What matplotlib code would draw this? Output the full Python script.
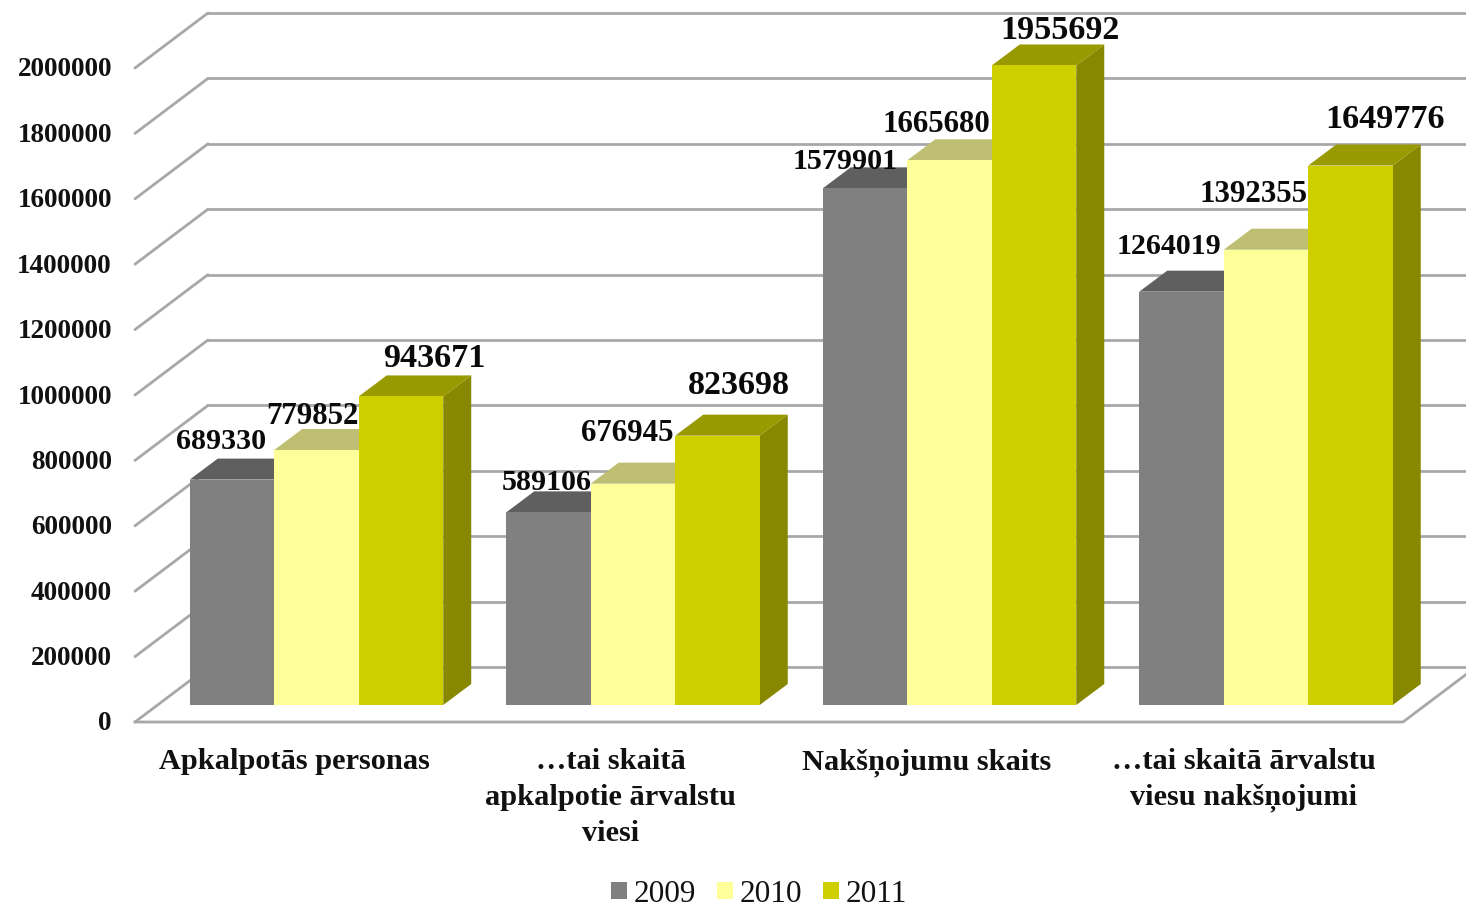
import matplotlib
matplotlib.use("Agg")
import matplotlib.pyplot as plt
from matplotlib.patches import Patch, Polygon

plt.rcParams["font.family"] = ["Liberation Serif", "DejaVu Serif"]

# data
categories = ["Apkalpotās personas",
              "…tai skaitā\napkalpotie ārvalstu\nviesi",
              "Nakšņojumu skaits",
              "…tai skaitā ārvalstu\nviesu nakšņojumi"]
years = ["2009", "2010", "2011"]
v2009 = [689330, 589106, 1579901, 1264019]
v2010 = [779852, 676945, 1665680, 1392355]
v2011 = [943671, 823698, 1955692, 1649776]
y_ticks = [0, 200000, 400000, 600000, 800000, 1000000, 1200000, 1400000,
           1600000, 1800000, 2000000]

# label offsets from the top centre of each bar, in pixels
off2009 = [(-11, 38), (-1.5, 30), (-20, 27), (-12.5, 45)]
off2010 = [(-4.5, 33), (-6, 50), (-13.5, 36), (-12, 55)]
off2011 = [(33, 38), (21.5, 50), (26, 35), (34.5, 46)]

W, H = 1466, 907
PX_X = 316.5            # pixels per category
PX_Y = 0.000327         # pixels per unit of value
BASE_PX = 705           # pixel row of value 0 at the bar front


def dx(px):
    return px / PX_X


def dy(px):
    return px / PX_Y


fig = plt.figure(figsize=(W / 100, H / 100), dpi=100, facecolor="white")
ax = fig.add_axes([0, 0, 1, 1])
ax.set_xlim(-1, W / PX_X - 1)
ax.set_ylim((BASE_PX - H) / PX_Y, BASE_PX / PX_Y)
ax.axis("off")

# walls and floor
grid = "#a8a8a8"
x_front = dx(135) - 1
x_back = dx(208) - 1
x_end = dx(1403) - 1
floor_shift = -dy(17)   # wall front sits a little below the bar front
back_shift = dy(55)
for t in y_ticks:
    y = t + floor_shift
    ax.plot([x_front, x_back], [y, y + back_shift], color=grid, lw=2, solid_capstyle="round", zorder=1)
    ax.plot([x_back, ax.get_xlim()[1]], [y + back_shift] * 2, color=grid, lw=2, zorder=1)
    ax.text(dx(112) - 1, y - dy(2), f"{t}", ha="right", va="center", fontsize=19.6, fontweight="bold", color="#111111")
ax.plot([x_front, x_end, x_end + dx(73)], [floor_shift, floor_shift, floor_shift + back_shift],
        color=grid, lw=2, zorder=1)

# bars
bar_w = dx(84.5)
depth_x = dx(28)
depth_y = dy(21)
series = [
    (v2009, off2009, "#808080", "#5f5f5f", "#5a5a5a", 21.6),
    (v2010, off2010, "#ffff99", "#bfbf73", "#bfbf73", 22.2),
    (v2011, off2011, "#cfcf00", "#999900", "#888800", 24.6),
]
for s, (vals, offs, front, top, side, size) in enumerate(series):
    for i, v in enumerate(vals):
        x0 = i + (s - 1.5) * bar_w
        x1 = x0 + bar_w
        z = 2 + s
        ax.add_patch(Polygon([(x1, 0), (x1 + depth_x, depth_y), (x1 + depth_x, v + depth_y), (x1, v)],
                             fc=side, ec="none", zorder=z))
        ax.add_patch(Polygon([(x0, v), (x0 + depth_x, v + depth_y), (x1 + depth_x, v + depth_y), (x1, v)],
                             fc=top, ec="none", zorder=z))
        ax.add_patch(Polygon([(x0, 0), (x1, 0), (x1, v), (x0, v)], fc=front, ec="none", zorder=z))

for s, (vals, offs, front, top, side, size) in enumerate(series):
    for i, v in enumerate(vals):
        ax.annotate(f"{v}", (i + (s - 1) * bar_w, v), xytext=offs[i], textcoords="offset pixels",
                    ha="center", va="center", fontsize=size, fontweight="bold", color="#0a0a0a", zorder=10)

# category labels
for i, c in enumerate(categories):
    ax.text(i - dx(22.5), dy(BASE_PX - 748), c, ha="center", va="top", fontsize=21.9,
            fontweight="bold", color="#111111", linespacing=1.42, multialignment="center")

handles = [Patch(fc=series[k][2], ec="none", label=years[k]) for k in range(3)]
ax.legend(handles=handles, ncols=3, loc="center", bbox_to_anchor=(759 / W, 1 - 894 / H),
          frameon=False, fontsize=22.5, handlelength=0.5, handleheight=0.5,
          handletextpad=0.22, columnspacing=0.68, labelcolor="#111111")

fig.savefig("out.png", dpi=100, facecolor="white")
